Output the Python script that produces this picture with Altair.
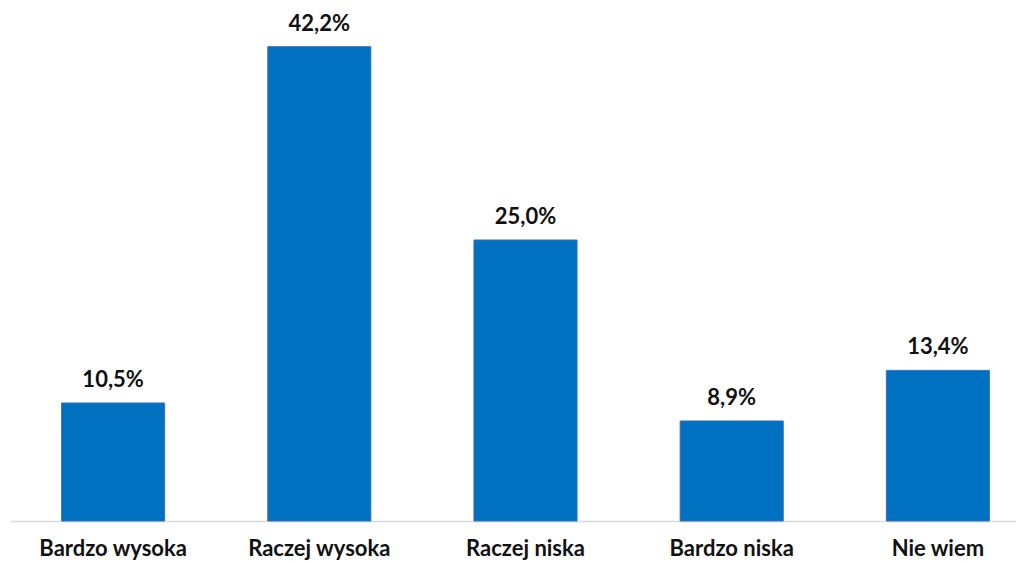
import altair as alt
import pandas as pd

categories = ["Bardzo wysoka", "Raczej wysoka", "Raczej niska", "Bardzo niska", "Nie wiem"]
values = [10.5, 42.2, 25.0, 8.9, 13.4]
labels = ["10,5%", "42,2%", "25,0%", "8,9%", "13,4%"]

df = pd.DataFrame({"cat": categories, "val": values, "lab": labels})

FONT = "Lato"

x = alt.X("cat:N", sort=categories, title=None,
          scale=alt.Scale(range=[2, 1033], paddingInner=0.5, paddingOuter=0.25),
          axis=alt.Axis(labelAngle=0, ticks=False, domainColor="#D9D9D9", domainWidth=1.5,
                        labelFont=FONT, labelFontWeight="bold", labelFontSize=22,
                        labelColor="#111111", labelPadding=17, grid=False))
y = alt.Y("val:Q", title=None, scale=alt.Scale(domain=[0, 45.64], nice=False), axis=None)

bars = alt.Chart(df).mark_bar(color="#0070C0", stroke="#3D6FC2", strokeWidth=1).encode(x=x, y=y)
text = alt.Chart(df).mark_text(font=FONT, fontWeight="bold", fontSize=22, color="#111111",
                               baseline="alphabetic", dy=-16).encode(x=x, y=y, text="lab:N")

chart = (bars + text).properties(
    width=1008, height=513,
    autosize=alt.AutoSizeParams(type="none"),
    padding={"left": 0, "top": 0, "right": 0, "bottom": 40},
    view=alt.ViewBackground(strokeWidth=0, stroke="transparent"),
).configure_view(strokeWidth=0, stroke="transparent").configure(background="white")

chart.save("out.html", embed_options={"renderer": "svg", "actions": False})
